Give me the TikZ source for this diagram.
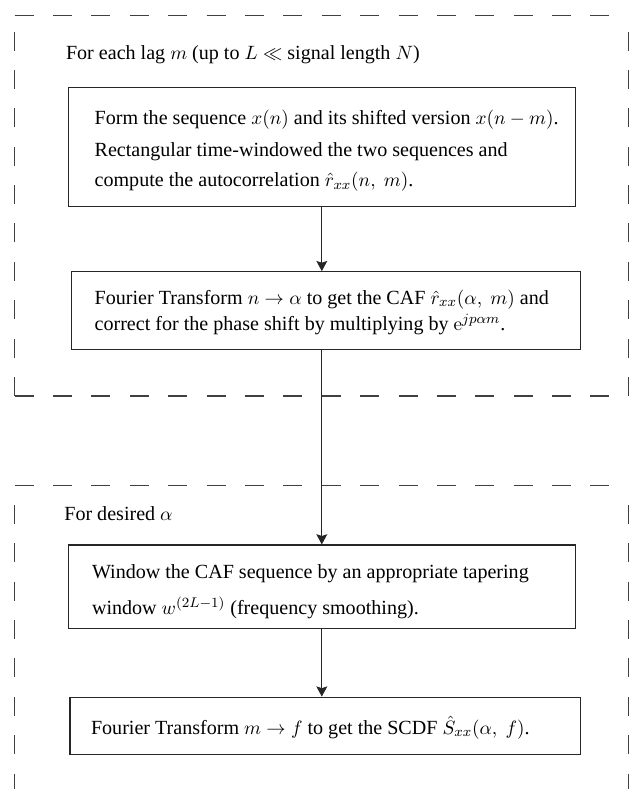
\documentclass[tikz,border=0pt]{standalone}
\usepackage[no-math]{fontspec}
\setmainfont{Liberation Serif}
\usetikzlibrary{arrows.meta}
\begin{document}
\begin{tikzpicture}[x=0.568pt,y=-0.568pt,
  frame/.style={draw=black!75, line width=0.65pt, dash pattern=on 10.8pt off 11pt},
  stepbox/.style={draw=black!85, line width=0.6pt, rectangle, inner sep=0pt},
  txt/.style={anchor=base west, inner sep=0pt, font=\fontsize{11.4}{13}\selectfont},
  arr/.style={draw=black!85, line width=0.6pt, -{Stealth[length=5.8pt,width=6.2pt,inset=1pt]}}]
\useasboundingbox (0,0) rectangle (637,789);
\clip (0,0) rectangle (637,789);

% top frame
\draw[frame] (14.7,15.7) -- (628.7,15.7);
\draw[frame] (14.7,396) -- (628.7,396);
\draw[frame] (14.7,396) -- (14.7,15.7);
\draw[frame] (628.7,396) -- (628.7,15.7);
% bottom frame (open at the bottom)
\draw[frame] (14.7,485.5) -- (628.7,485.5);
\draw[frame, dash phase=10.8pt] (14.7,485.5) -- (14.7,800);
\draw[frame, dash phase=10.8pt] (628.7,485.5) -- (628.7,800);

% boxes
\node[stepbox, minimum width=288pt, minimum height=67.7pt] (b1) at (321.8,146.9) {};
\node[stepbox, minimum width=289.3pt, minimum height=44.1pt] (b2) at (325.7,310.5) {};
\node[stepbox, minimum width=288pt, minimum height=47.4pt] (b3) at (321.8,586.7) {};
\node[stepbox, minimum width=289.7pt, minimum height=32.8pt] (b4) at (325,726) {};

% texts
\node[txt] (t0) at (65.7,60) {For each lag $m$ (up to $L \ll$ signal length $N$)};
\node[txt] (t11) at (94.3,125) {Form the sequence $x(n)$ and its shifted version $x(n-m)$.};
\node[txt] (t12) at (94.3,157) {Rectangular time-windowed the two sequences and};
\node[txt] (t13) at (94.3,187) {compute the autocorrelation $\hat{r}_{xx}(n,\ m)$.};
\node[txt] (t21) at (94.3,304) {Fourier Transform $n \to \alpha$ to get the CAF $\hat{r}_{xx}(\alpha,\ m)$ and};
\node[txt] (t22) at (94.3,330.7) {correct for the phase shift by multiplying by $\mathrm{e}^{jp\alpha m}$.};
\node[txt] (t3) at (64,520) {For desired $\alpha$};
\node[txt] (t31) at (91.7,578) {Window the CAF sequence by an appropriate tapering};
\node[txt] (t32) at (91.7,614) {window $w^{(2L-1)}$ (frequency smoothing).};
\node[txt] (t41) at (90.7,734) {Fourier Transform $m \to f$ to get the SCDF $\hat{S}_{xx}(\alpha,\ f)$.};

% connectors
\draw[arr] (b1.south) -- (b1.south |- b2.north);
\draw[arr] (b2.south -| b1.south) -- (b3.north);
\draw[arr] (b3.south) -- (b3.south |- b4.north);
\end{tikzpicture}
\end{document}
